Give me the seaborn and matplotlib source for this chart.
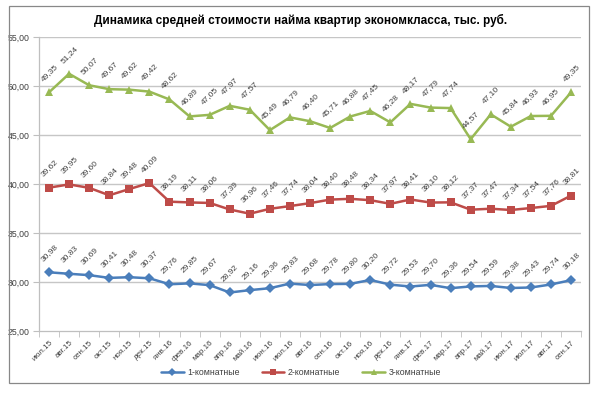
import seaborn as sns
import matplotlib.pyplot as plt
import pandas as pd
from matplotlib.lines import Line2D

months = ['июл.15', 'авг.15', 'сен.15', 'окт.15', 'ноя.15', 'дек.15',
          'янв.16', 'фев.16', 'мар.16', 'апр.16', 'май.16', 'июн.16',
          'июл.16', 'авг.16', 'сен.16', 'окт.16', 'ноя.16', 'дек.16',
          'янв.17', 'фев.17', 'мар.17', 'апр.17', 'май.17', 'июн.17',
          'июл.17', 'авг.17', 'сен.17']

room1 = [30.98, 30.83, 30.69, 30.41, 30.48, 30.37, 29.76, 29.85, 29.67,
         28.92, 29.16, 29.36, 29.83, 29.68, 29.78, 29.80, 30.20, 29.72,
         29.53, 29.70, 29.36, 29.54, 29.59, 29.38, 29.43, 29.74, 30.18]
room2 = [39.62, 39.95, 39.60, 38.84, 39.48, 40.09, 38.19, 38.11, 38.06,
         37.39, 36.96, 37.46, 37.74, 38.04, 38.40, 38.48, 38.34, 37.97,
         38.41, 38.10, 38.12, 37.37, 37.47, 37.34, 37.54, 37.76, 38.81]
room3 = [49.35, 51.24, 50.07, 49.67, 49.62, 49.42, 48.62, 46.89, 47.05,
         47.97, 47.57, 45.49, 46.79, 46.40, 45.71, 46.88, 47.45, 46.28,
         48.17, 47.79, 47.74, 44.57, 47.10, 45.84, 46.93, 46.95, 49.35]

series_names = ['1-комнатные', '2-комнатные', '3-комнатные']
colors = ['#4A7EBB', '#BE4B48', '#98B954']
markers = ['D', 's', '^']
yticks = [25, 30, 35, 40, 45, 50, 55]

title = 'Динамика средней стоимости найма квартир экономкласса, тыс. руб.'

rows = []
for name, vals in zip(series_names, [room1, room2, room3]):
    for i, v in enumerate(vals):
        rows.append({'idx': i, 'month': months[i], 'value': v, 'series': name})
df = pd.DataFrame(rows)

sns.set_style('white')
plt.rcParams['font.family'] = ['Liberation Sans', 'DejaVu Sans']

fig = plt.figure(figsize=(5.96, 3.93), dpi=100)
ax = fig.add_axes([0.0654, 0.158, 0.9096, 0.748])

sns.lineplot(
    data=df, x='idx', y='value', hue='series', style='series',
    palette=dict(zip(series_names, colors)),
    markers=dict(zip(series_names, markers)),
    dashes=False, linewidth=1.8, markersize=5.5, markeredgewidth=0,
    legend=False, ax=ax, zorder=3
)

# horizontal gridlines
ax.hlines(yticks[1:], -0.5, len(months) - 0.5, colors='#C6C6C6',
          linewidth=1.0, zorder=1)

# data labels
for vals in [room1, room2, room3]:
    for i, v in enumerate(vals):
        ax.annotate(f'{v:.2f}'.replace('.', ','), (i, v),
                    xytext=(0, 14), textcoords='offset points',
                    ha='center', va='center', rotation=45,
                    fontsize=6, color='#404040', zorder=4)

ax.set_xlim(-0.5, len(months) - 0.5)
ax.set_ylim(25, 55)
ax.set_yticks(yticks)
ax.set_yticklabels([f'{t:.2f}'.replace('.', ',') for t in yticks],
                   fontsize=6.3, color='#404040')
ax.set_xticks(range(len(months)))
ax.set_xticklabels(months, rotation=45, ha='right', rotation_mode='anchor',
                   fontsize=5.8, color='#404040')
ax.set_xticks([i - 0.5 for i in range(len(months) + 1)], minor=True)
ax.tick_params(axis='x', which='major', length=0, pad=6)
ax.tick_params(axis='x', which='minor', length=4, color='#BFBFBF', direction='out', bottom=True)
ax.tick_params(axis='y', length=4, color='#BFBFBF', direction='out', left=True, pad=3)
ax.set_xlabel('')
ax.set_ylabel('')
for s in ['top', 'right']:
    ax.spines[s].set_visible(False)
for s in ['left', 'bottom']:
    ax.spines[s].set_color('#BFBFBF')
    ax.spines[s].set_linewidth(0.9)

fig.text(0.505, 0.947, title, ha='center', va='center', fontsize=8.5,
         fontweight='bold', color='black')

handles = [Line2D([], [], color=c, marker=m, markersize=4, linewidth=1.8,
                  markeredgewidth=0) for c, m in zip(colors, markers)]
fig.legend(handles, series_names, loc='center', bbox_to_anchor=(0.505, 0.052),
           ncol=3, frameon=False, fontsize=6.3, handlelength=2.6,
           columnspacing=2.5, handletextpad=0.4, labelcolor='#404040')

fig.add_artist(plt.Rectangle((0.015, 0.026), 0.973, 0.96, transform=fig.transFigure,
                             fill=False, edgecolor='#888888', linewidth=0.9))

fig.savefig('out.png', dpi=100, facecolor='white')
